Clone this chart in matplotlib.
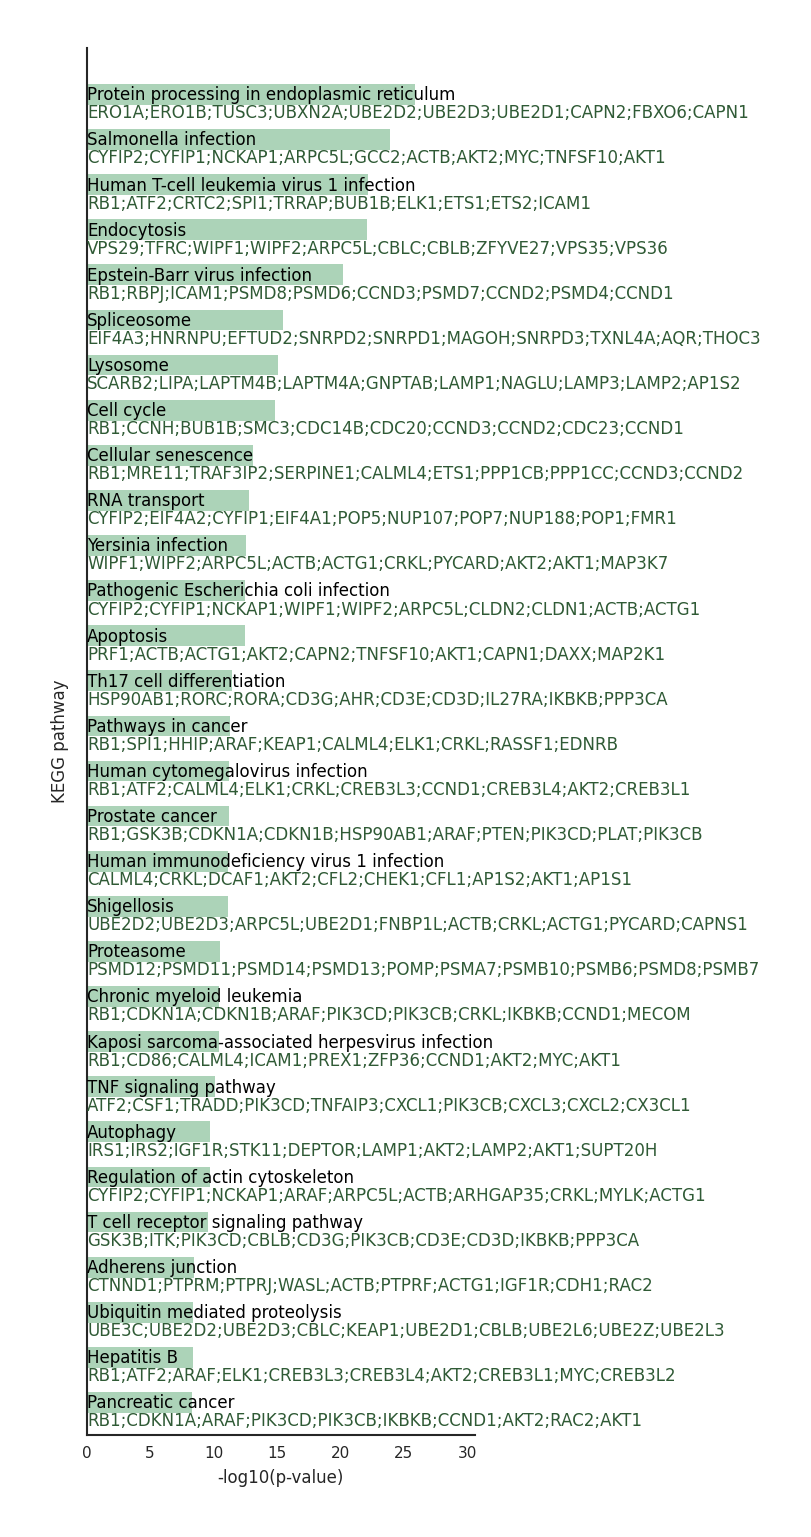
import matplotlib
matplotlib.use("Agg")
import matplotlib.pyplot as plt

pathways = [
    "Protein processing in endoplasmic reticulum",
    "Salmonella infection",
    "Human T-cell leukemia virus 1 infection",
    "Endocytosis",
    "Epstein-Barr virus infection",
    "Spliceosome",
    "Lysosome",
    "Cell cycle",
    "Cellular senescence",
    "RNA transport",
    "Yersinia infection",
    "Pathogenic Escherichia coli infection",
    "Apoptosis",
    "Th17 cell differentiation",
    "Pathways in cancer",
    "Human cytomegalovirus infection",
    "Prostate cancer",
    "Human immunodeficiency virus 1 infection",
    "Shigellosis",
    "Proteasome",
    "Chronic myeloid leukemia",
    "Kaposi sarcoma-associated herpesvirus infection",
    "TNF signaling pathway",
    "Autophagy",
    "Regulation of actin cytoskeleton",
    "T cell receptor signaling pathway",
    "Adherens junction",
    "Ubiquitin mediated proteolysis",
    "Hepatitis B",
    "Pancreatic cancer",
]

neg_log10_p = [
    25.87, 23.90, 22.20, 22.06, 20.23, 15.44, 15.06, 14.81, 13.13, 12.81,
    12.53, 12.44, 12.44, 11.48, 11.27, 11.25, 11.19, 11.12, 11.10, 10.48,
    10.46, 10.40, 10.09, 9.74, 9.69, 9.54, 8.44, 8.41, 8.35, 8.27,
]

genes = [
    "ERO1A;ERO1B;TUSC3;UBXN2A;UBE2D2;UBE2D3;UBE2D1;CAPN2;FBXO6;CAPN1",
    "CYFIP2;CYFIP1;NCKAP1;ARPC5L;GCC2;ACTB;AKT2;MYC;TNFSF10;AKT1",
    "RB1;ATF2;CRTC2;SPI1;TRRAP;BUB1B;ELK1;ETS1;ETS2;ICAM1",
    "VPS29;TFRC;WIPF1;WIPF2;ARPC5L;CBLC;CBLB;ZFYVE27;VPS35;VPS36",
    "RB1;RBPJ;ICAM1;PSMD8;PSMD6;CCND3;PSMD7;CCND2;PSMD4;CCND1",
    "EIF4A3;HNRNPU;EFTUD2;SNRPD2;SNRPD1;MAGOH;SNRPD3;TXNL4A;AQR;THOC3",
    "SCARB2;LIPA;LAPTM4B;LAPTM4A;GNPTAB;LAMP1;NAGLU;LAMP3;LAMP2;AP1S2",
    "RB1;CCNH;BUB1B;SMC3;CDC14B;CDC20;CCND3;CCND2;CDC23;CCND1",
    "RB1;MRE11;TRAF3IP2;SERPINE1;CALML4;ETS1;PPP1CB;PPP1CC;CCND3;CCND2",
    "CYFIP2;EIF4A2;CYFIP1;EIF4A1;POP5;NUP107;POP7;NUP188;POP1;FMR1",
    "WIPF1;WIPF2;ARPC5L;ACTB;ACTG1;CRKL;PYCARD;AKT2;AKT1;MAP3K7",
    "CYFIP2;CYFIP1;NCKAP1;WIPF1;WIPF2;ARPC5L;CLDN2;CLDN1;ACTB;ACTG1",
    "PRF1;ACTB;ACTG1;AKT2;CAPN2;TNFSF10;AKT1;CAPN1;DAXX;MAP2K1",
    "HSP90AB1;RORC;RORA;CD3G;AHR;CD3E;CD3D;IL27RA;IKBKB;PPP3CA",
    "RB1;SPI1;HHIP;ARAF;KEAP1;CALML4;ELK1;CRKL;RASSF1;EDNRB",
    "RB1;ATF2;CALML4;ELK1;CRKL;CREB3L3;CCND1;CREB3L4;AKT2;CREB3L1",
    "RB1;GSK3B;CDKN1A;CDKN1B;HSP90AB1;ARAF;PTEN;PIK3CD;PLAT;PIK3CB",
    "CALML4;CRKL;DCAF1;AKT2;CFL2;CHEK1;CFL1;AP1S2;AKT1;AP1S1",
    "UBE2D2;UBE2D3;ARPC5L;UBE2D1;FNBP1L;ACTB;CRKL;ACTG1;PYCARD;CAPNS1",
    "PSMD12;PSMD11;PSMD14;PSMD13;POMP;PSMA7;PSMB10;PSMB6;PSMD8;PSMB7",
    "RB1;CDKN1A;CDKN1B;ARAF;PIK3CD;PIK3CB;CRKL;IKBKB;CCND1;MECOM",
    "RB1;CD86;CALML4;ICAM1;PREX1;ZFP36;CCND1;AKT2;MYC;AKT1",
    "ATF2;CSF1;TRADD;PIK3CD;TNFAIP3;CXCL1;PIK3CB;CXCL3;CXCL2;CX3CL1",
    "IRS1;IRS2;IGF1R;STK11;DEPTOR;LAMP1;AKT2;LAMP2;AKT1;SUPT20H",
    "CYFIP2;CYFIP1;NCKAP1;ARAF;ARPC5L;ACTB;ARHGAP35;CRKL;MYLK;ACTG1",
    "GSK3B;ITK;PIK3CD;CBLB;CD3G;PIK3CB;CD3E;CD3D;IKBKB;PPP3CA",
    "CTNND1;PTPRM;PTPRJ;WASL;ACTB;PTPRF;ACTG1;IGF1R;CDH1;RAC2",
    "UBE3C;UBE2D2;UBE2D3;CBLC;KEAP1;UBE2D1;CBLB;UBE2L6;UBE2Z;UBE2L3",
    "RB1;ATF2;ARAF;ELK1;CREB3L3;CREB3L4;AKT2;CREB3L1;MYC;CREB3L2",
    "RB1;CDKN1A;ARAF;PIK3CD;PIK3CB;IKBKB;CCND1;AKT2;RAC2;AKT1",
]

x_ticks = [0, 5, 10, 15, 20, 25, 30]

bar_color = "#acd3b8"
gene_color = "#2f5a35"
dark = "#262626"

fig = plt.figure(figsize=(8.11, 15.37), dpi=100)
ax = fig.add_axes([0.1069, 0.0664, 0.4788, 0.9024])

ypos = list(range(len(pathways)))
ax.barh(ypos, neg_log10_p, height=0.46, color=bar_color, zorder=1)

for i, (p, g) in enumerate(zip(pathways, genes)):
    ax.text(0.05, i + 0.02, p, va="center", ha="left", fontsize=12, color="black", zorder=3)
    ax.text(0.05, i + 0.42, g, va="center", ha="left", fontsize=12, color=gene_color, zorder=3)

ax.set_xlim(0, 30.6)
ax.set_ylim(29.72, -1.03)
ax.set_xticks(x_ticks)
ax.set_xticklabels([str(t) for t in x_ticks], fontsize=11, color=dark)
ax.set_yticks([])
ax.tick_params(axis="x", length=0, pad=8)
for s in ["top", "right"]:
    ax.spines[s].set_visible(False)
for s in ["left", "bottom"]:
    ax.spines[s].set_color(dark)
    ax.spines[s].set_linewidth(1.5)
ax.set_xlabel("-log10(p-value)", fontsize=12, color=dark, labelpad=6)
ax.set_ylabel("KEGG pathway", fontsize=12, color=dark, labelpad=13)

fig.savefig("out.png", dpi=100)
